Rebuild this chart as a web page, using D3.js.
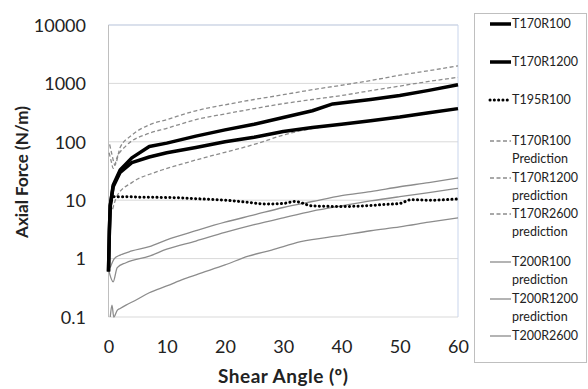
<!DOCTYPE html>
<html>
<head>
<meta charset="utf-8">
<script src="https://d3js.org/d3.v7.min.js"></script>
<style>
  body { margin: 0; background: white; }
  text { font-family: Lato, "Open Sans", sans-serif; fill: #222; }
</style>
</head>
<body>
<svg id="chart"></svg>
<script>
// angle (deg) / axial force (N/m)
var angT170R100 = [0, 0.15, 0.3, 0.8, 2, 4, 7, 10, 15, 20, 25, 30, 35, 38.5, 45, 50, 55, 60];
var valT170R100 = [0.6, 3, 8, 18, 33, 53, 83, 95, 125, 160, 200, 260, 340, 445, 530, 620, 760, 950];

var angT170R1200 = [0, 0.15, 0.3, 0.8, 2, 4, 7, 10, 15, 20, 25, 30, 35, 40, 45, 50, 55, 60];
var valT170R1200 = [0.6, 3, 8, 17, 30, 44, 55, 65, 80, 100, 120, 150, 175, 200, 230, 265, 315, 370];

var angT195R100 = [0.5, 1, 3, 5, 8, 12, 16, 20, 24, 27, 30, 32, 35, 40, 44, 47, 50, 52, 55, 60];
var valT195R100 = [10, 11.5, 11.5, 11.3, 11.2, 11, 10.5, 10, 9.2, 8.6, 8.8, 9.5, 8, 7.8, 8, 8.4, 8.8, 10.2, 10, 10.5];

var angP1 = [0.2, 0.6, 1.1, 2, 4, 7, 10, 15, 20, 25, 30, 35, 40, 45, 50, 55, 60];
var valP1 = [90, 60, 40, 80, 130, 195, 240, 340, 430, 530, 640, 780, 930, 1120, 1380, 1650, 2000];

var angP2 = [0.1, 0.5, 0.8, 1.5, 3, 7, 10, 15, 20, 25, 30, 35, 40, 45, 50, 55, 60];
var valP2 = [65, 45, 35, 55, 85, 140, 170, 240, 300, 370, 450, 530, 620, 750, 900, 1080, 1270];

var angP3 = [0.7, 1.5, 4, 8, 12, 16, 20, 25, 30, 33, 40, 45, 50, 55, 60];
var valP3 = [7, 12, 20, 30, 40, 52, 66, 90, 130, 155, 198, 230, 268, 318, 378];

var angP4 = [0.3, 1, 2, 4, 7, 10, 15, 20, 25, 30, 35, 40, 45, 50, 55, 60];
var valP4 = [0.7, 1.0, 1.15, 1.35, 1.6, 2.1, 3.0, 4.2, 5.6, 7.5, 9.5, 12, 14, 17, 20, 24];

var angP5 = [0, 0.8, 1.5, 3, 7, 10, 15, 20, 25, 30, 35, 40, 45, 50, 55, 60];
var valP5 = [0.65, 0.4, 0.7, 0.85, 1.1, 1.45, 2.0, 2.8, 3.8, 5.0, 6.5, 8.0, 9.7, 11.5, 13.5, 16];

var angP6 = [0.3, 0.6, 0.9, 1.5, 2, 3, 4.5, 7, 10, 13, 16, 20, 24, 28, 33, 40, 45, 50, 55, 60];
var valP6 = [0.1, 0.16, 0.1, 0.13, 0.14, 0.16, 0.19, 0.26, 0.34, 0.45, 0.57, 0.78, 1.1, 1.4, 1.95, 2.5, 3.0, 3.5, 4.2, 5.0];

var xTicks = [0, 10, 20, 30, 40, 50, 60];
var yTicks = [0.1, 1, 10, 100, 1000, 10000];

var series = [
  {name: ["T170R100"], ang: angT170R100, val: valT170R100, kind: "thick"},
  {name: ["T170R1200"], ang: angT170R1200, val: valT170R1200, kind: "thick"},
  {name: ["T195R100"], ang: angT195R100, val: valT195R100, kind: "dot"},
  {name: ["T170R100", "Prediction"], ang: angP1, val: valP1, kind: "dash"},
  {name: ["T170R1200", "prediction"], ang: angP2, val: valP2, kind: "dash"},
  {name: ["T170R2600", "prediction"], ang: angP3, val: valP3, kind: "dash"},
  {name: ["T200R100", "prediction"], ang: angP4, val: valP4, kind: "grey"},
  {name: ["T200R1200", "prediction"], ang: angP5, val: valP5, kind: "grey"},
  {name: ["T200R2600"], ang: angP6, val: valP6, kind: "grey"}
];

var width = 588, height = 389;
var svg = d3.select("#chart").attr("width", width).attr("height", height);

var x = d3.scaleLinear().domain([0, 60]).range([108.5, 458]);
var y = d3.scaleLog().domain([0.1, 10000]).range([317, 25]);

// gridlines
svg.append("g").selectAll("line")
  .data(yTicks)
  .enter().append("line")
  .attr("x1", x(0)).attr("x2", x(60))
  .attr("y1", function(d) { return y(d); })
  .attr("y2", function(d) { return y(d); })
  .attr("stroke", "#d9d9d9").attr("stroke-width", 1);

// plot frame (blue-ish top/right, grey left)
svg.append("line").attr("x1", x(0)).attr("x2", x(60)).attr("y1", y(10000)).attr("y2", y(10000))
  .attr("stroke", "#c9d5ec");
svg.append("line").attr("x1", x(60)).attr("x2", x(60)).attr("y1", y(10000)).attr("y2", y(0.1))
  .attr("stroke", "#c9d5ec");
svg.append("line").attr("x1", x(0)).attr("x2", x(0)).attr("y1", y(10000)).attr("y2", y(0.1))
  .attr("stroke", "#bfbfbf");

// axes (labels only, like the excel look)
var xAxis = svg.append("g").attr("transform", "translate(0," + 337 + ")")
  .call(d3.axisBottom(x).tickValues(xTicks).tickSize(0).tickFormat(d3.format("d")));
var yAxis = svg.append("g").attr("transform", "translate(" + 86 + ",0)")
  .call(d3.axisLeft(y).tickValues(yTicks).tickSize(0)
    .tickFormat(function(d) { return d < 1 ? "0.1" : d3.format("d")(d); }));
[xAxis, yAxis].forEach(function(a) {
  a.select(".domain").remove();
  a.selectAll("text").attr("font-size", "18px").attr("fill", "#222")
    .attr("font-family", "Lato, sans-serif");
});
yAxis.selectAll("text").attr("x", 0).attr("dy", "0.35em");
xAxis.selectAll("text").attr("y", 0).attr("dy", "0.9em");

// titles
svg.append("text").attr("x", (x(0) + x(60)) / 2).attr("y", 383)
  .attr("text-anchor", "middle").attr("font-size", "19px").attr("font-weight", "bold")
  .attr("letter-spacing", "0.5px")
  .text("Shear Angle (\u00BA)");
svg.append("text").attr("transform", "translate(28,172) rotate(-90)")
  .attr("text-anchor", "middle").attr("font-size", "17px").attr("font-weight", "bold")
  .text("Axial Force (N/m)");

function styleLine(sel, kind) {
  if (kind === "thick") {
    sel.attr("stroke", "#000").attr("stroke-width", 3.5);
  } else if (kind === "dot") {
    sel.attr("stroke", "#000").attr("stroke-width", 3)
      .attr("stroke-dasharray", "0.1,4.2").attr("stroke-linecap", "round");
  } else if (kind === "dash") {
    sel.attr("stroke", "#8c8c8c").attr("stroke-width", 1.3).attr("stroke-dasharray", "4,2.5");
  } else {
    sel.attr("stroke", "#8c8c8c").attr("stroke-width", 1.3);
  }
  return sel.attr("fill", "none");
}

var smooth = d3.line()
  .x(function(d) { return x(d[0]); })
  .y(function(d) { return y(d[1]); })
  .curve(d3.curveMonotoneX);
var straight = d3.line()
  .x(function(d) { return x(d[0]); })
  .y(function(d) { return y(d[1]); });

// draw greys first, then black on top
var order = [8, 7, 6, 5, 4, 3, 2, 1, 0];
order.forEach(function(i) {
  var s = series[i];
  var pts = s.ang.map(function(a, j) { return [a, s.val[j]]; });
  var gen = s.kind === "thick" ? straight : smooth;
  styleLine(svg.append("path").datum(pts).attr("d", gen).attr("stroke-linejoin", "round"), s.kind);
});

// legend
var lg = svg.append("g");
lg.append("rect").attr("x", 474.5).attr("y", 13.5).attr("width", 112).attr("height", 349)
  .attr("fill", "white").attr("stroke", "#bfbfbf");

var rowY = [24, 62, 100, 141, 178, 214, 262, 299, 336];
series.forEach(function(s, i) {
  var yy = rowY[i];
  var x2 = s.kind === "dot" ? 508 : 511;
  styleLine(lg.append("line").attr("x1", 490).attr("x2", x2).attr("y1", yy).attr("y2", yy), s.kind);
  s.name.forEach(function(t, k) {
    lg.append("text").attr("x", 512).attr("y", yy + k * 18).attr("dy", "0.35em")
      .attr("font-size", "12.5px").text(t);
  });
});
</script>
</body>
</html>
